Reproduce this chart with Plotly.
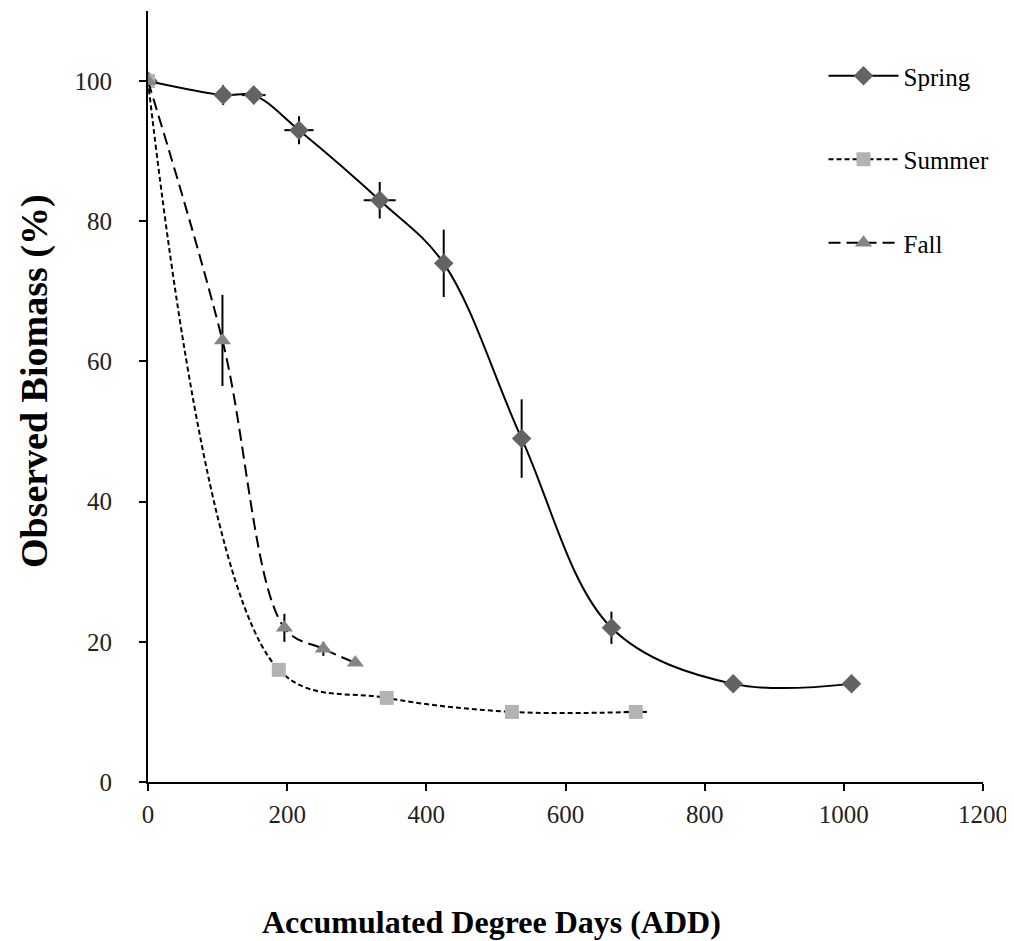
import plotly.graph_objects as go

# ---- data ----
spring_x = [0, 108, 152, 217, 333, 425, 537, 666, 841, 1011]
spring_y = [100, 98, 98, 93, 83, 74, 49, 22, 14, 14]
spring_ey = [0, 1.4, 1.3, 2.0, 2.6, 4.8, 5.6, 2.3, 0, 0]
spring_ex = [0, 0, 17, 21, 23, 0, 0, 0, 0, 0]

summer_x = [0, 188, 343, 523, 701]
summer_y = [100, 16, 12, 10, 10]
summer_ex = [0, 0, 0, 0, 16]

fall_x = [0, 107, 196, 252, 298]
fall_y = [100, 63, 22, 19, 17]
fall_ey = [0, 6.5, 2.0, 1.0, 0]

x_ticks = [0, 200, 400, 600, 800, 1000, 1200]
y_ticks = [0, 20, 40, 60, 80, 100]

FONT = "Liberation Serif, 'Times New Roman', Times, 'DejaVu Serif', serif"

fig = go.Figure()

fig.add_trace(go.Scatter(
    x=spring_x, y=spring_y, name="Spring", legendgroup="a",
    mode="lines+markers",
    line=dict(color="black", width=2, shape="spline", smoothing=1.0),
    marker=dict(symbol="diamond", size=15, color="#636363"),
    error_y=dict(type="data", array=spring_ey, color="black", thickness=2, width=0),
    error_x=dict(type="data", array=spring_ex, color="black", thickness=2, width=0),
))
fig.add_trace(go.Scatter(
    x=summer_x, y=summer_y, name="Summer", legendgroup="b",
    mode="lines+markers",
    line=dict(color="black", width=2, shape="spline", smoothing=1.0, dash="5px,3px"),
    marker=dict(symbol="square", size=14, color="#b3b3b3"),
    error_x=dict(type="data", array=summer_ex, color="black", thickness=2, width=0),
))
fig.add_trace(go.Scatter(
    x=fall_x, y=fall_y, name="Fall", legendgroup="c",
    mode="lines+markers",
    line=dict(color="black", width=2, shape="spline", smoothing=1.0, dash="12px,6px"),
    marker=dict(symbol="triangle-up", size=15, color="#858585"),
    error_y=dict(type="data", array=fall_ey, color="black", thickness=2, width=0),
))

fig.update_layout(
    width=1006, height=933,
    margin=dict(l=140, r=31, t=3, b=159),
    paper_bgcolor="white", plot_bgcolor="white",
    font=dict(family=FONT, color="black", size=25),
    showlegend=True,
    legend=dict(
        x=0.809, y=0.9455, xanchor="left", yanchor="top",
        font=dict(family=FONT, size=25, color="black"),
        tracegroupgap=48, itemwidth=70, bgcolor="rgba(0,0,0,0)",
    ),
    xaxis=dict(
        range=[0, 1200], tickvals=x_ticks, ticktext=[str(v) for v in x_ticks],
        showline=True, linecolor="black", linewidth=2,
        ticks="outside", ticklen=7, tickwidth=2, tickcolor="black",
        showgrid=False, zeroline=False,
        tickfont=dict(family=FONT, size=25, color="#222"),
        ticklabelstandoff=2, ticklabeloverflow="allow",
    ),
    yaxis=dict(
        range=[0, 110], tickvals=y_ticks, ticktext=[str(v) for v in y_ticks],
        showline=True, linecolor="black", linewidth=2,
        ticks="outside", ticklen=7, tickwidth=2, tickcolor="black",
        showgrid=False, zeroline=False,
        tickfont=dict(family=FONT, size=25, color="#222"),
        ticklabelstandoff=22,
    ),
    annotations=[
        dict(text="<b>Accumulated Degree Days (ADD)</b>", xref="paper", yref="paper",
             x=0.411, y=-0.181, xanchor="center", yanchor="middle", showarrow=False,
             font=dict(family=FONT, size=32, color="black")),
        dict(text="<b>Observed Biomass (%)</b>", xref="paper", yref="paper",
             x=-0.1365, y=0.52, xanchor="center", yanchor="middle", showarrow=False,
             textangle=-90, font=dict(family=FONT, size=38, color="black")),
    ],
)

fig.write_html("out.html")
